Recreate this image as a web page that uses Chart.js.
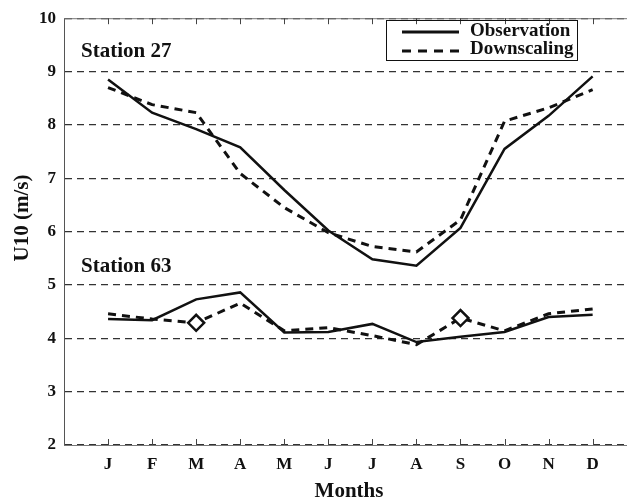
<!DOCTYPE html>
<html>
<head>
<meta charset="utf-8">
<script src="https://cdn.jsdelivr.net/npm/chart.js@4/dist/chart.umd.min.js"></script>
<style>
  html, body { margin: 0; padding: 0; background: #fff; }
  #wrap { width: 627px; height: 503px; }
</style>
</head>
<body>
<div id="wrap"><canvas id="u10Chart"></canvas></div>
<script>
const months = ["J", "F", "M", "A", "M", "J", "J", "A", "S", "O", "N", "D"];
const yTicks = [2, 3, 4, 5, 6, 7, 8, 9, 10];

const obs27 = [8.85, 8.23, 7.92, 7.58, 6.78, 6.02, 5.48, 5.36, 6.07, 7.55, 8.17, 8.91];
const down27 = [8.70, 8.38, 8.23, 7.09, 6.45, 5.98, 5.72, 5.62, 6.22, 8.07, 8.32, 8.66];
const obs63 = [4.36, 4.34, 4.73, 4.86, 4.11, 4.12, 4.27, 3.93, 4.03, 4.12, 4.40, 4.44];
const down63 = [4.46, 4.36, 4.29, 4.66, 4.14, 4.20, 4.05, 3.88, 4.38, 4.14, 4.46, 4.55];
const diamondAt = [2, 8]; // months with a diamond marker on downscaling station 63

const serif = '"Liberation Serif", "Times New Roman", serif';
const ink = "#111";

const toPoints = (arr) => arr.map((v, i) => ({ x: i + 1, y: v }));

const solidLine = { borderColor: ink, borderWidth: 2.5, pointRadius: 0, tension: 0, fill: false };
const dashLine = { borderColor: ink, borderWidth: 3, borderDash: [8, 6], pointRadius: 0, tension: 0, fill: false };

const extras = {
  id: "extras",
  afterDraw(chart) {
    const { ctx, chartArea: a, scales } = chart;
    const x = scales.x;
    ctx.save();
    // thin frame line on top
    ctx.strokeStyle = "#777";
    ctx.lineWidth = 1;
    ctx.beginPath();
    ctx.moveTo(a.left, a.top + 0.5); ctx.lineTo(a.right, a.top + 0.5);
    ctx.stroke();
    // month tick marks, inward at top and bottom
    ctx.strokeStyle = "#444";
    months.forEach((m, i) => {
      const px = Math.round(x.getPixelForValue(i + 1)) + 0.5;
      ctx.beginPath();
      ctx.moveTo(px, a.top); ctx.lineTo(px, a.top + 6);
      ctx.moveTo(px, a.bottom); ctx.lineTo(px, a.bottom - 6);
      ctx.stroke();
    });

    ctx.fillStyle = ink;
    ctx.textAlign = "left";
    ctx.textBaseline = "alphabetic";
    ctx.font = "bold 21px " + serif;
    ctx.fillText("Station 27", 81, 57);
    ctx.fillText("Station 63", 81, 272);

    // legend
    ctx.strokeStyle = ink;
    ctx.lineWidth = 1;
    ctx.strokeRect(386.5, 20.5, 191, 40);
    ctx.lineWidth = 3;
    ctx.beginPath(); ctx.moveTo(402, 32); ctx.lineTo(459, 32); ctx.stroke();
    ctx.setLineDash([9, 7]);
    ctx.beginPath(); ctx.moveTo(402, 51); ctx.lineTo(459, 51); ctx.stroke();
    ctx.setLineDash([]);
    ctx.font = "bold 19px " + serif;
    ctx.fillText("Observation", 470, 36);
    ctx.fillText("Downscaling", 470, 54);

    // axis titles
    ctx.textAlign = "center";
    ctx.textBaseline = "middle";
    ctx.font = "bold 21px " + serif;
    ctx.fillText("Months", 349, 492);
    ctx.translate(23, 218);
    ctx.rotate(-Math.PI / 2);
    ctx.font = "bold 21px " + serif;
    ctx.fillText("U10 (m/s)", 0, 0);
    ctx.restore();
  }
};

new Chart(document.getElementById("u10Chart"), {
  type: "line",
  data: {
    datasets: [
      { label: "Observation 27", data: toPoints(obs27), ...solidLine },
      { label: "Downscaling 27", data: toPoints(down27), ...dashLine },
      { label: "Observation 63", data: toPoints(obs63), ...solidLine },
      {
        label: "Downscaling 63",
        data: toPoints(down63),
        ...dashLine,
        pointStyle: "rectRot",
        pointRadius: down63.map((v, i) => (diamondAt.includes(i) ? 8 : 0)),
        pointBorderWidth: 2.5,
        pointBorderColor: ink,
        pointBackgroundColor: "#fff",
      },
    ],
  },
  options: {
    responsive: true,
    maintainAspectRatio: false,
    animation: false,
    layout: { padding: { top: 13, left: 0, right: 0, bottom: 0 } },
    plugins: { legend: { display: false }, tooltip: { enabled: false } },
    scales: {
      x: {
        type: "linear",
        min: 0,
        max: 12.78,
        afterBuildTicks: (s) => { s.ticks = months.map((m, i) => ({ value: i + 1 })); },
        afterFit: (s) => { s.height = 58; },
        grid: { display: false, drawTicks: false },
        border: { display: true, color: "#777", width: 1 },
        ticks: {
          autoSkip: false,
          maxRotation: 0,
          padding: 9,
          color: ink,
          font: { family: serif, size: 17, weight: "bold" },
          callback: (v) => months[v - 1],
        },
      },
      y: {
        min: 2,
        max: 10,
        afterBuildTicks: (s) => { s.ticks = yTicks.map((v) => ({ value: v })); },
        afterFit: (s) => { s.width = 64; },
        grid: { color: "#333", lineWidth: 1.2, drawTicks: false },
        border: { display: true, color: "#555", width: 1, dash: [7, 5] },
        ticks: {
          padding: 8,
          color: ink,
          font: { family: serif, size: 17, weight: "bold" },
        },
      },
    },
  },
  plugins: [extras],
});
</script>
</body>
</html>
